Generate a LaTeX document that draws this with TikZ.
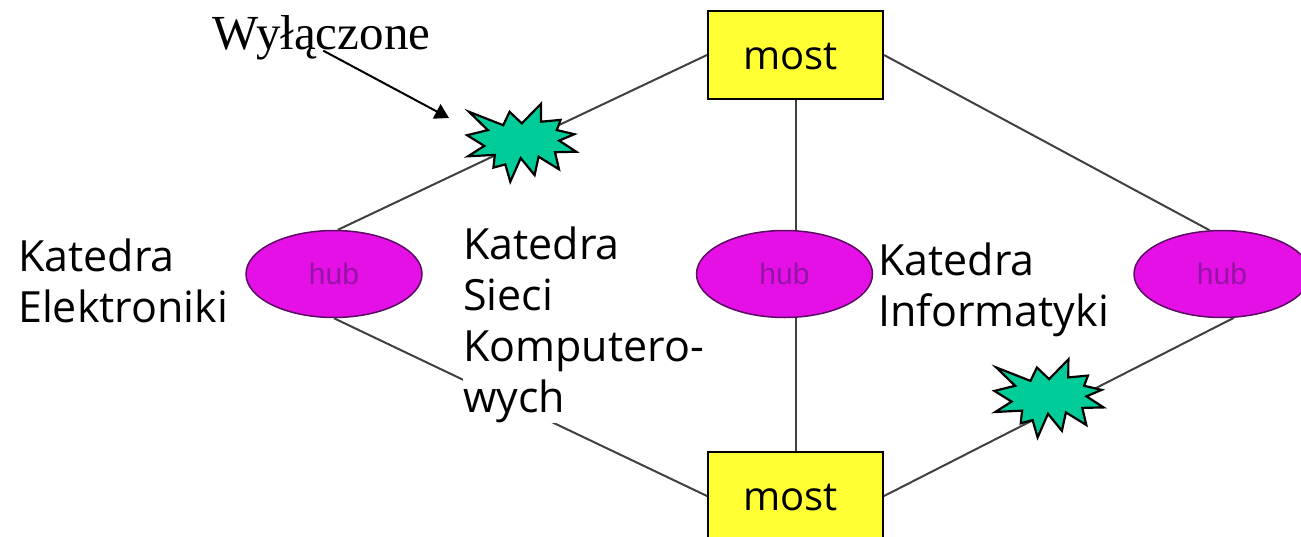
\documentclass[tikz,border=0pt]{standalone}
\usepackage{fontspec}
\setmainfont{Liberation Serif}
\newfontfamily\labelfont{Open Sans}
\newfontfamily\hubfont{Liberation Sans}
\usetikzlibrary{arrows.meta, shapes.geometric}
\definecolor{hubfill}{RGB}{229,16,229}
\definecolor{hubtext}{RGB}{150,20,165}
\definecolor{burstfill}{RGB}{0,204,153}
\definecolor{mostfill}{RGB}{255,255,51}
\tikzset{
  hub/.style={ellipse,draw=hubtext!60!black,fill=hubfill,line width=1.5pt,minimum width=176,minimum height=87,inner sep=0pt,
    text=hubtext,font=\hubfont\fontsize{30}{30}\selectfont},
  most/.style={rectangle,draw=black,fill=mostfill,line width=2pt,minimum width=175,minimum height=88,inner sep=0pt,
    text width=175,text height=30,align=center,font=\labelfont\fontsize{40}{40}\selectfont},
  link/.style={draw=black!75,line width=2pt},
  katedra/.style={anchor=north west,align=left,inner sep=0pt,font=\labelfont\fontsize{43}{51}\selectfont},
  burst/.pic={
    \draw[fill=burstfill,line width=2.2pt,line join=miter] (-51,-30.2) -- (-16.8,-16.8) -- (-10.4,-30.2) -- (1.8,-18.6) -- (21.1,-38.3)
      -- (21,-20.3) -- (40.6,-22.1) -- (36.8,-11.9) -- (54.3,-7.8) -- (39.2,-1.4) -- (56.2,9.7) -- (35,10.2)
      -- (39,27.3) -- (18.6,14.7) -- (14.6,33.1) -- (0.7,16.1) -- (-9.7,39.7) -- (-14.7,22.4) -- (-26.6,25.6)
      -- (-25.2,12.9) -- (-52,14.3) -- (-35.7,3.9) -- (-52.9,-6.8) -- (-32.2,-11.9) -- cycle;
  }
}
\begin{document}
\begin{tikzpicture}[x=1pt,y=-1pt]
\path[use as bounding box,clip] (0,0) rectangle (1301,536);
% Bridges and outer hubs
\node[most] (most1) at (795.5,55) {most\kern10pt\null};
\node[most] (most2) at (795.5,496) {most\kern10pt\null};
\node[hub] (hub1) at (334,274) {hub};
\node[hub] (hub3) at (1222,274) {hub};
% Links between them
\draw[link] (most1.west) -- (hub1.85);
\draw[link] (hub1.south) -- (most2.west);
\draw[link] (most1.east) -- (hub3.106);
\draw[link] (hub3.-75) -- (most2.east);
\draw[link] (most1.south) -- (most2.north);
% Labels of the departments
\node[katedra] (elektronika) at (18,239) {Katedra\\Elektroniki};
\node[katedra,fill=white,minimum width=235,minimum height=197] (sieci) at (463,226) {Katedra\\Sieci\\Komputero-\\wych};
\node[katedra] (informatyka) at (878,243) {Katedra\\Informatyki};
\node[hub] (hub2) at (784.5,274) {hub};
% Switched off links
\path (520,142) pic {burst};
\path (1047.3,397.7) pic {burst};
\node[inner sep=0pt,font=\fontsize{49}{49}\selectfont] (wylaczone) at (321.5,38) {Wyłączone};
\coordinate (burstleft) at (449,118);
\draw[-{Triangle[length=14pt,width=16pt]},line width=2pt,shorten <=2pt] (wylaczone.base) -- (burstleft);
\end{tikzpicture}
\end{document}
